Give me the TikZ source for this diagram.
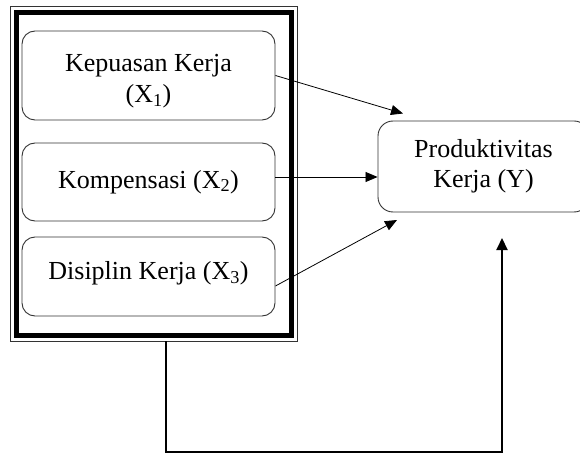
\documentclass[tikz,border=0pt]{standalone}
\usepackage{fontspec}
\setmainfont{Liberation Serif}
\usetikzlibrary{positioning, arrows.meta}

\begin{document}
\begin{tikzpicture}[x=1pt, y=1pt,
    varbox/.style={draw=black!80, line width=0.9pt, rounded corners=13pt, minimum width=253pt, align=center, font=\fontsize{26}{31}\selectfont},
    link/.style={-{Triangle[length=12pt, width=10pt]}, line width=0.8pt},
    back/.style={-{Triangle[length=12pt, width=11pt]}, line width=2pt}]
    % Fix the page size
    \useasboundingbox (0,0) rectangle (580,-454);

    % Draw the double frame around the variables
    \draw[line width=1pt, black!80] (10.5,-6.5) rectangle (297,-341);
    \draw[line width=5pt] (16.5,-12.5) rectangle (291.5,-335);

    % Draw the variable boxes
    \node[varbox, minimum height=89pt, text height=60pt] (kepuasan) at (148.5,-75.5) {Kepuasan Kerja\\(X\textsubscript{1})};
    \node[varbox, minimum height=78pt] (kompensasi) at (148.5,-182) {Kompensasi (X\textsubscript{2})};
    \node[varbox, minimum height=79pt, text depth=12pt] (disiplin) at (148.5,-276.5) {Disiplin Kerja (X\textsubscript{3})};

    % Draw the dependent variable
    \node[varbox, minimum width=211pt, minimum height=91pt, rounded corners=15pt, font=\fontsize{26}{30}\selectfont] (prod) at (483.5,-166.5) {Produktivitas\\Kerja (Y)};

    % Free ends of the connectors
    \coordinate (inTop) at (403,-113.5);
    \coordinate (inLow) at (397,-220);
    \coordinate (inBack) at (502,-238);
    \coordinate (frameBase) at (165.5,-341);
    \coordinate (bendL) at (165.5,-452);

    % Draw the partial effects
    \draw[link] (kepuasan.east) -- (inTop);
    \draw[link] ([yshift=5pt]kompensasi.east) -- ([yshift=5pt]kompensasi.east -| prod.west);
    \draw[link] ([yshift=-9.5pt]disiplin.east) -- (inLow);

    % Draw the joint effect
    \draw[back] (frameBase) -- (bendL) -| (inBack);
\end{tikzpicture}
\end{document}
